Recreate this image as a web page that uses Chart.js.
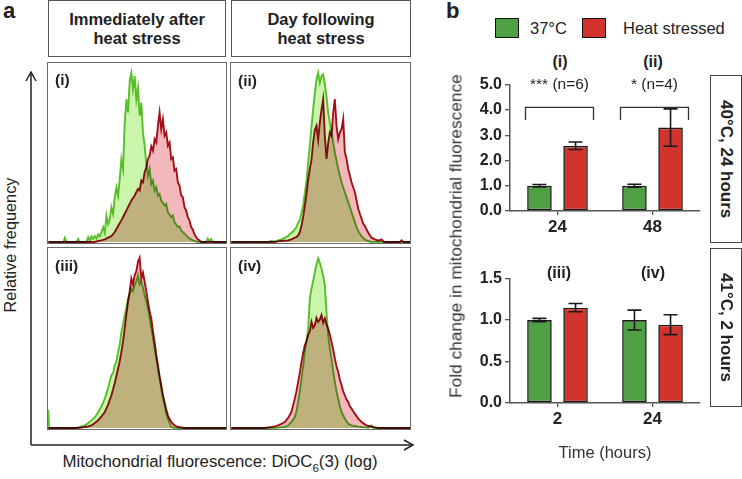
<!DOCTYPE html>
<html>
<head>
<meta charset="utf-8">
<script src="https://cdn.jsdelivr.net/npm/chart.js"></script>
<style>
  body { margin: 0; background: #fff; font-family: "Liberation Sans", Arial, sans-serif; color: #222; }
  #page { position: relative; width: 742px; height: 479px; overflow: hidden; }
  .abs { position: absolute; }
  .panel-letter { font-weight: bold; font-size: 22px; line-height: 22px; }
  .head { box-sizing: border-box; border: 1.5px solid #555; display: flex; align-items: center; justify-content: center;
          text-align: center; font-weight: bold; font-size: 16.5px; line-height: 19px; }
  .hbox { box-sizing: border-box; border: 1.5px solid #6a6a6a; }
  .hbox .inner { position: relative; width: 100%; height: 100%; }
  .tag { font-weight: bold; font-size: 15.5px; }
  .btag { font-weight: bold; font-size: 16px; transform: translate(-50%, -50%); white-space: nowrap; }
  .side { box-sizing: border-box; border: 1.5px solid #444; display: flex; align-items: center; justify-content: center;
          writing-mode: vertical-rl; font-weight: bold; font-size: 17px; white-space: nowrap; }
  .swatch { box-sizing: border-box; width: 24px; height: 20px; border: 1.5px solid #111; }
  .leg { font-size: 16.5px; line-height: 20px; }
  .rot { transform: translate(-50%, -50%) rotate(-90deg); white-space: nowrap; }
</style>
</head>
<body>
<div id="page">
  <svg class="abs" style="left:0;top:0" width="742" height="479">
    <g stroke="#222" stroke-width="1.5" fill="none">
      <polyline points="31,445 31,72"/>
      <polyline points="26,81 31,72 36,81"/>
      <polyline points="31,445 413,445"/>
      <polyline points="404,440 413,445 404,450"/>
    </g>
  </svg>

  <div class="abs panel-letter" style="left:3px;top:0px">a</div>
  <div class="abs panel-letter" style="left:446px;top:0px">b</div>

  <div class="abs head" style="left:48px;top:0px;width:178px;height:57px">Immediately after<br>heat stress</div>
  <div class="abs head" style="left:231px;top:0px;width:180px;height:57px">Day following<br>heat stress</div>

  <div class="abs hbox" style="left:47px;top:62px;width:180px;height:182px"><div class="inner"><canvas id="h1"></canvas></div></div>
  <div class="abs hbox" style="left:230px;top:62px;width:181px;height:182px"><div class="inner"><canvas id="h2"></canvas></div></div>
  <div class="abs hbox" style="left:47px;top:247px;width:180px;height:183px"><div class="inner"><canvas id="h3"></canvas></div></div>
  <div class="abs hbox" style="left:230px;top:247px;width:181px;height:183px"><div class="inner"><canvas id="h4"></canvas></div></div>

  <div class="abs tag" style="left:55px;top:71px">(i)</div>
  <div class="abs tag" style="left:238px;top:72px">(ii)</div>
  <div class="abs tag" style="left:55px;top:257px">(iii)</div>
  <div class="abs tag" style="left:238px;top:257px">(iv)</div>

  <div class="abs rot" style="left:10px;top:245px;font-size:16.3px">Relative frequency</div>
  <div class="abs" style="left:220px;top:463px;transform:translate(-50%,-50%);white-space:nowrap;font-size:16.8px">Mitochondrial fluorescence: DiOC<sub style="font-size:11.5px">6</sub>(3) (log)</div>

  <!-- panel b legend -->
  <div class="abs swatch" style="left:495px;top:18px;background:#4f9f45"></div>
  <div class="abs leg" style="left:530px;top:18px">37°C</div>
  <div class="abs swatch" style="left:582px;top:18px;background:#d0342c"></div>
  <div class="abs leg" style="left:623px;top:18px">Heat stressed</div>

  <div class="abs btag" style="left:560px;top:62px">(i)</div>
  <div class="abs btag" style="left:653px;top:62px">(ii)</div>
  <div class="abs btag" style="left:559px;top:273px">(iii)</div>
  <div class="abs btag" style="left:653px;top:273px">(iv)</div>

  <div class="abs" style="left:465px;top:72px;width:240px;height:162px"><canvas id="b1"></canvas></div>
  <div class="abs" style="left:465px;top:266px;width:240px;height:163px"><canvas id="b2"></canvas></div>

  <div class="abs rot" style="left:456px;top:236px;font-size:17.3px;color:#333">Fold change in mitochondrial fluorescence</div>
  <div class="abs" style="left:605px;top:452px;transform:translate(-50%,-50%);white-space:nowrap;font-size:16.5px;color:#333">Time (hours)</div>

  <div class="abs side" style="left:710px;top:75px;width:32px;height:168px">40°C, 24 hours</div>
  <div class="abs side" style="left:710px;top:248px;width:32px;height:159px">41°C, 2 hours</div>
</div>

<script>
Chart.defaults.font.family = '"Liberation Sans", Arial, sans-serif';
Chart.defaults.color = '#222';

// ---- panel a: histograms, [fluorescence (box %), relative frequency] ----
const greenI = [[2,0],[11,0],[12,2.6],[13,0],[19,0],[20,1.8],[21,0],[25,0],[26,3],[27,0.6],[28,3.5],[29,2],[30,3.6],[31,2.2],[32,4.6],[33,3.5],[34,6],[35,9],[36,5.6],[37,16],[38,11],[39,14],[40,21],[41,17],[42,27],[43,33],[44,28],[45,38],[46,50],[47,44],[48,72],[49,86],[50,78],[51,97],[52,102],[53,92],[54,100],[55,86],[56,93],[57,76],[58,84],[59,66],[60,58],[61,48],[62,40],[63,44],[64,35],[65,37],[66,31],[67,33],[68,28],[69,29],[70,25],[72,22],[73,23],[74,18],[76,15],[77,16],[78,12],[80,9],[81,9.5],[82,7],[84,5],[86,3],[88,1.6],[90,0.6],[92,0],[97,0],[98,2],[99,0.4],[100,1.8],[101,0],[109,0]];
const redI = [[2,0],[30,0],[32,0.6],[34,1],[36,1.6],[38,2.6],[40,3.6],[42,6],[44,9.6],[46,13],[48,17],[50,21],[52,25],[54,28],[56,32],[57,31],[58,37],[59,36],[60,42],[61,45],[62,50],[63,52],[64,57.6],[65,55],[66,62],[67,60],[68,70],[69,78],[70,68],[71,74],[72,64],[73,66],[74,58],[75,60],[76,50],[77,51],[78,43],[79,44],[80,36],[81,34],[82,28],[83,27],[84,21],[85,19],[86,15],[87,13],[88,9],[89,7.6],[90,4.6],[91,3],[92,1.6],[93,1],[94,0],[109,0]];
const greenII = [[2,0],[24,0],[26,0.6],[28,0.4],[30,1],[32,1.6],[34,2.6],[36,3.5],[37,5],[38,5.6],[39,6.5],[40,7.6],[41,9],[42,11.6],[43,13],[44,17.6],[45,22],[46,29.6],[47,37],[48,47.6],[49,58],[50,69.6],[51,80],[52,89.6],[53,98],[54,102],[55,96],[56,100],[57,101],[58,95],[59,88],[60,78],[61,72],[62,66],[63,60],[64,54],[65,49],[66,44],[67,40],[68,36],[69,33],[70,30],[71,27],[72,24],[73,21],[74,18],[75,15],[76,12],[77,9],[78,6.6],[79,5],[80,3.6],[81,2.5],[82,1.6],[84,0.6],[86,0],[109,0]];
const redII = [[2,0],[28,0],[30,0.4],[32,0.6],[34,0.8],[36,1],[38,1.6],[40,2.6],[41,3],[42,4],[43,6],[44,9.6],[45,15],[46,21.6],[47,29],[48,37.6],[49,44],[50,49.6],[51,60],[52,67.6],[53,70],[54,61.6],[55,72],[56,79.6],[57,86],[58,64],[59,50],[60,59.6],[61,66],[62,64],[63,78],[64,86],[65,70],[66,62],[67,66],[68,68],[69,74],[70,54],[71,50],[72,44],[73,40],[74,36],[75,33],[76,30],[77,25],[78,20],[79,17],[80,14],[81,11],[82,9.6],[83,7.5],[84,5.6],[85,4],[86,2.6],[88,1.6],[90,0.8],[92,1.6],[93,0.4],[94,0],[103,0],[104,1],[105,0],[109,0]];
const greenIII = [[2,11],[2.5,0],[18,0],[20,0.4],[22,1],[24,1.6],[26,3],[28,4.6],[30,6.5],[32,9.6],[34,13],[36,17.6],[38,24],[39,28],[40,31.6],[41,33],[42,37.6],[43,40],[44,45.6],[45,50],[46,57.6],[47,62],[48,67.6],[49,72],[50,77.6],[51,80],[52,83.6],[53,82],[54,85.6],[55,88],[56,91.6],[57,86],[58,87.6],[59,84],[60,79.6],[61,76],[62,71.6],[63,66],[64,59.6],[65,54],[66,47.6],[67,42],[68,35.6],[69,30],[70,23.6],[71,18],[72,13.6],[73,9],[74,5.6],[75,3],[76,0.6],[78,0],[109,0]];
const redIII = [[2,0],[20,0],[22,0.3],[24,0.6],[26,1],[28,1.6],[30,3],[32,4.6],[34,7],[36,9.6],[38,14],[40,19.6],[42,27],[44,35.6],[45,40],[46,45.6],[47,52],[48,59.6],[49,68],[50,75.6],[51,82],[52,89.6],[53,86],[54,91.6],[55,94],[56,99.6],[57,102],[58,89.6],[59,93],[60,87.6],[61,82],[62,75.6],[63,70],[64,65.6],[65,58],[66,51.6],[67,44],[68,37.6],[69,31],[70,25.6],[71,20],[72,15.6],[73,11],[74,7.6],[75,5.5],[76,3.6],[77,2.5],[78,1.6],[80,0.6],[82,0.3],[84,0],[109,0]];
const greenIV = [[2,0],[28,0],[30,0.2],[32,0.4],[34,0.6],[36,1.6],[38,3.6],[40,6.6],[41,10],[42,15.6],[43,22],[44,29.6],[45,37],[46,45.6],[47,52],[48,59.6],[49,77.6],[50,83.6],[51,88],[52,93.6],[53,98],[54,101.6],[55,99],[56,95.6],[57,91],[58,85.6],[59,69.6],[60,55.6],[61,48],[62,41.6],[63,34],[64,27.6],[65,22],[66,17.6],[67,13],[68,9.6],[69,7.5],[70,5.6],[72,2.6],[74,1.6],[76,1.2],[78,0.8],[80,0.6],[82,0.4],[84,0.2],[86,1.6],[87,0],[109,0]];
const redIV = [[2,0],[22,0],[24,0.3],[26,0.6],[28,1],[30,1.6],[32,2.5],[34,3.6],[36,6],[38,9.6],[40,17.6],[41,22],[42,27.6],[43,33],[44,39.6],[45,45],[46,49.6],[47,52],[48,55.6],[49,58],[50,63.6],[51,60],[52,61.6],[53,66],[54,63.6],[55,65],[56,67.6],[57,63],[58,65.6],[59,62],[60,59.6],[61,56],[62,51.6],[63,47],[64,41.6],[65,37],[66,33.6],[67,29],[68,25.6],[69,22],[70,19.6],[71,17],[72,15.6],[73,13],[74,11.6],[75,10],[76,8.6],[78,5.6],[80,3.6],[82,2.2],[84,1.2],[86,0.8],[88,0.4],[90,0],[109,0]];

// ---- panel b: fold change (mean, SEM) ----
const timesTop = ['24', '48'];
const ctrlTop = [1.0, 1.0];
const ctrlTopErr = [0.05, 0.06];
const heatTop = [2.58, 3.3];
const heatTopErr = [0.15, 0.74];
const sigTop = ['*** (n=6)', '* (n=4)'];

const timesBottom = ['2', '24'];
const ctrlBottom = [1.0, 1.0];
const ctrlBottomErr = [0.02, 0.12];
const heatBottom = [1.15, 0.945];
const heatBottomErr = [0.05, 0.12];

const GREEN = '#4f9f45';
const RED = '#d0342c';

// overlapping histogram fills mix like ink (green + pink -> tan)
const multiplyBlend = {
  id: 'multiplyBlend',
  beforeDatasetsDraw(chart) { chart.ctx.save(); chart.ctx.globalCompositeOperation = 'multiply'; },
  afterDatasetsDraw(chart) { chart.ctx.restore(); }
};

function makeHist(id, red, green) {
  const pts = arr => arr.map(([x, y]) => ({ x, y }));
  return new Chart(document.getElementById(id), {
    type: 'line',
    data: {
      datasets: [
        { data: pts(red), borderColor: '#a8121a', backgroundColor: 'rgb(242,184,188)', fill: 'origin',
          borderWidth: 1.9, pointRadius: 0, tension: 0 },
        { data: pts(green), borderColor: '#62c232', backgroundColor: 'rgb(202,245,170)', fill: 'origin',
          borderWidth: 1.9, pointRadius: 0, tension: 0 }
      ]
    },
    options: {
      responsive: true, maintainAspectRatio: false, animation: false,
      layout: { padding: 0 },
      plugins: { legend: { display: false }, tooltip: { enabled: false } },
      scales: {
        x: { type: 'linear', min: 1.8, max: 109, display: false },
        y: { min: -0.6, max: 107.8, display: false }
      }
    },
    plugins: [multiplyBlend]
  });
}

makeHist('h1', redI, greenI);
makeHist('h2', redII, greenII);
makeHist('h3', redIII, greenIII);
makeHist('h4', redIV, greenIV);

// error bars from dataset.errors
const errorBars = {
  id: 'errorBars',
  afterDatasetsDraw(chart) {
    const { ctx, scales: { y } } = chart;
    ctx.save();
    ctx.strokeStyle = '#1a1a1a';
    ctx.lineWidth = 1.6;
    chart.data.datasets.forEach((ds, i) => {
      chart.getDatasetMeta(i).data.forEach((bar, j) => {
        const top = y.getPixelForValue(ds.data[j] + ds.errors[j]);
        const bot = y.getPixelForValue(ds.data[j] - ds.errors[j]);
        ctx.beginPath();
        ctx.moveTo(bar.x, top); ctx.lineTo(bar.x, bot);
        ctx.moveTo(bar.x - 7, top); ctx.lineTo(bar.x + 7, top);
        ctx.moveTo(bar.x - 7, bot); ctx.lineTo(bar.x + 7, bot);
        ctx.stroke();
      });
    });
    ctx.restore();
  }
};

// significance brackets over each time point
const sigBrackets = {
  id: 'sigBrackets',
  afterDatasetsDraw(chart, args, opts) {
    if (!opts.labels) return;
    const { ctx, scales: { x, y } } = chart;
    ctx.save();
    ctx.strokeStyle = '#333';
    ctx.lineWidth = 1.3;
    ctx.fillStyle = '#222';
    ctx.font = '15.5px "Liberation Sans", Arial, sans-serif';
    ctx.textAlign = 'center';
    ctx.textBaseline = 'middle';
    opts.labels.forEach((lab, j) => {
      const cx = x.getPixelForValue(j) + 2;
      const top = y.getPixelForValue(opts.level);
      const foot = y.getPixelForValue(opts.foot);
      ctx.beginPath();
      ctx.moveTo(cx - 34, foot); ctx.lineTo(cx - 34, top);
      ctx.lineTo(cx + 34, top); ctx.lineTo(cx + 34, foot);
      ctx.stroke();
      ctx.fillText(lab, cx, y.getPixelForValue(opts.textAt));
    });
    ctx.restore();
  }
};

function makeBars(id, labels, ctrl, ctrlErr, heat, heatErr, yMax, step, xAxisH, brackets) {
  const axisGrid = { display: true, drawOnChartArea: false, drawTicks: true, tickLength: 5, color: '#555', lineWidth: 1.3 };
  return new Chart(document.getElementById(id), {
    type: 'bar',
    data: {
      labels: labels,
      datasets: [
        { label: '37°C', data: ctrl, errors: ctrlErr, backgroundColor: GREEN, borderColor: '#1a1a1a', borderWidth: 1.6, borderSkipped: false },
        { label: 'Heat stressed', data: heat, errors: heatErr, backgroundColor: RED, borderColor: '#1a1a1a', borderWidth: 1.6, borderSkipped: false }
      ]
    },
    options: {
      responsive: true, maintainAspectRatio: false, animation: false,
      layout: { padding: { top: 12, right: 5, left: 0, bottom: 0 } },
      datasets: { bar: { categoryPercentage: 0.76, barPercentage: 0.68 } },
      plugins: { legend: { display: false }, tooltip: { enabled: false }, sigBrackets: brackets },
      scales: {
        x: {
          grid: Object.assign({}, axisGrid, { offset: false, tickLength: 4 }),
          border: { display: true, color: '#555', width: 1.5 },
          ticks: { color: '#222', font: { size: 17, weight: 'bold' }, padding: 2, maxRotation: 0 },
          afterFit: s => { s.height = xAxisH; }
        },
        y: {
          min: 0, max: yMax,
          grid: axisGrid,
          border: { display: true, color: '#555', width: 1.5 },
          ticks: { stepSize: step, color: '#222', font: { size: 16, weight: 'bold' }, padding: 3, callback: v => v.toFixed(1) },
          afterFit: s => { s.width = 45; }
        }
      }
    },
    plugins: [errorBars, sigBrackets]
  });
}

makeBars('b1', timesTop, ctrlTop, ctrlTopErr, heatTop, heatTopErr, 5, 1, 23,
  { labels: sigTop, level: 4.1, foot: 3.6, textAt: 5.0 });
makeBars('b2', timesBottom, ctrlBottom, ctrlBottomErr, heatBottom, heatBottomErr, 1.5, 0.5, 26, {});
</script>
</body>
</html>
